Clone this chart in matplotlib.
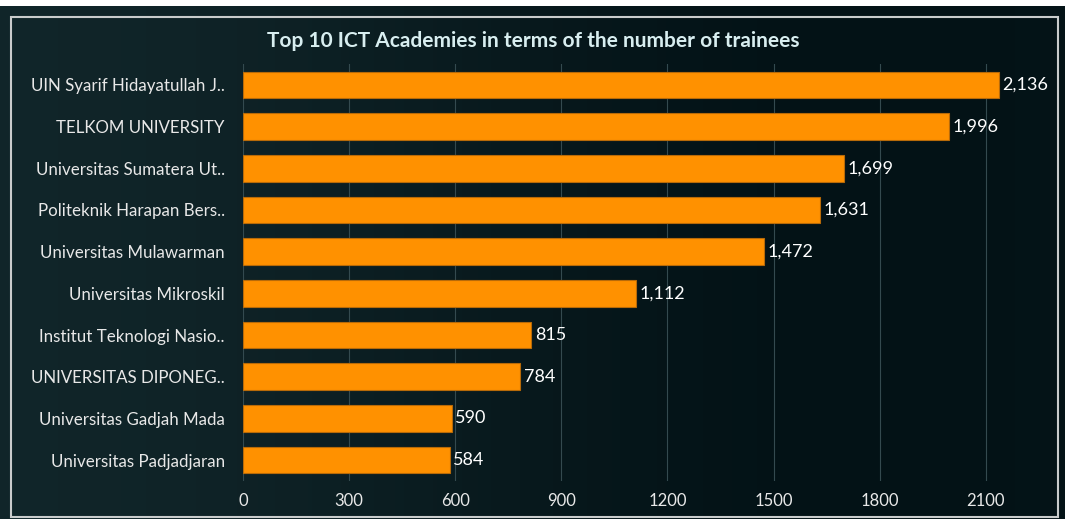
import numpy as np
import matplotlib.pyplot as plt
from matplotlib.patches import Rectangle

academies = [
    "UIN Syarif Hidayatullah J..",
    "TELKOM UNIVERSITY",
    "Universitas Sumatera Ut..",
    "Politeknik Harapan Bers..",
    "Universitas Mulawarman",
    "Universitas Mikroskil",
    "Institut Teknologi Nasio..",
    "UNIVERSITAS DIPONEG..",
    "Universitas Gadjah Mada",
    "Universitas Padjadjaran",
]
trainees = [2136, 1996, 1699, 1631, 1472, 1112, 815, 784, 590, 584]
xticks = [0, 300, 600, 900, 1200, 1500, 1800, 2100]

plt.rcParams['font.family'] = ['Lato', 'DejaVu Sans']

W, H = 1065, 519
fig = plt.figure(figsize=(W / 100, H / 100), dpi=100)
fig.patch.set_facecolor('white')

# dark background with a soft horizontal gradient
bg = fig.add_axes([0, 0, 1, 1 - 6 / H], zorder=-10)
grad = np.linspace(0, 1, 256)
shade = 0.5 + 0.5 * np.cos(grad * np.pi * 1.2)
c1 = np.array([0x14, 0x2a, 0x2e]) / 255
c2 = np.array([0x03, 0x12, 0x16]) / 255
img = c2 + (c1 - c2) * shade[:, None] * 0.8
bg.imshow(img[None, :, :], aspect='auto', extent=[0, W, 0, H])
bg.set_xlim(0, W)
bg.set_ylim(0, H)
bg.set_axis_off()

# faint frame
fig.patches.append(Rectangle((11 / W, 2 / H), 1047 / W, 500 / H, transform=fig.transFigure,
                             fill=False, edgecolor='#c9cccc', linewidth=1.5))

ax = fig.add_axes([243 / W, 38 / H, 780 / W, 417 / H])
ax.set_facecolor('none')
y = np.arange(len(academies))
ax.barh(y, trainees, height=0.64, color='#ff9100', edgecolor='#b86a08', linewidth=0.8, zorder=3)
ax.set_ylim(len(academies) - 0.5, -0.5)
ax.set_xlim(0, 2205)
ax.set_yticks(y)
ax.set_yticklabels(academies, color='#e8e8e8', fontsize=12.2)
ax.set_xticks(xticks)
ax.set_xticklabels([str(t) for t in xticks], color='#e8e8e8', fontsize=12)
ax.tick_params(length=0)
ax.tick_params(axis='x', pad=9)
ax.tick_params(axis='y', pad=13)
ax.grid(axis='x', color='#344a4f', linewidth=0.8, zorder=0)
for s in ax.spines.values():
    s.set_visible(False)

for yi, v in zip(y, trainees):
    ax.text(v + 10, yi, f"{v:,}", va='center', ha='left', color='white', fontsize=13, zorder=4)

fig.text(533 / W, 1 - 41 / H, "Top 10 ICT Academies in terms of the number of trainees",
         ha='center', va='center', color='#d8eef0', fontsize=15, fontweight='bold')

fig.savefig('out.png', dpi=100, facecolor=fig.get_facecolor())
